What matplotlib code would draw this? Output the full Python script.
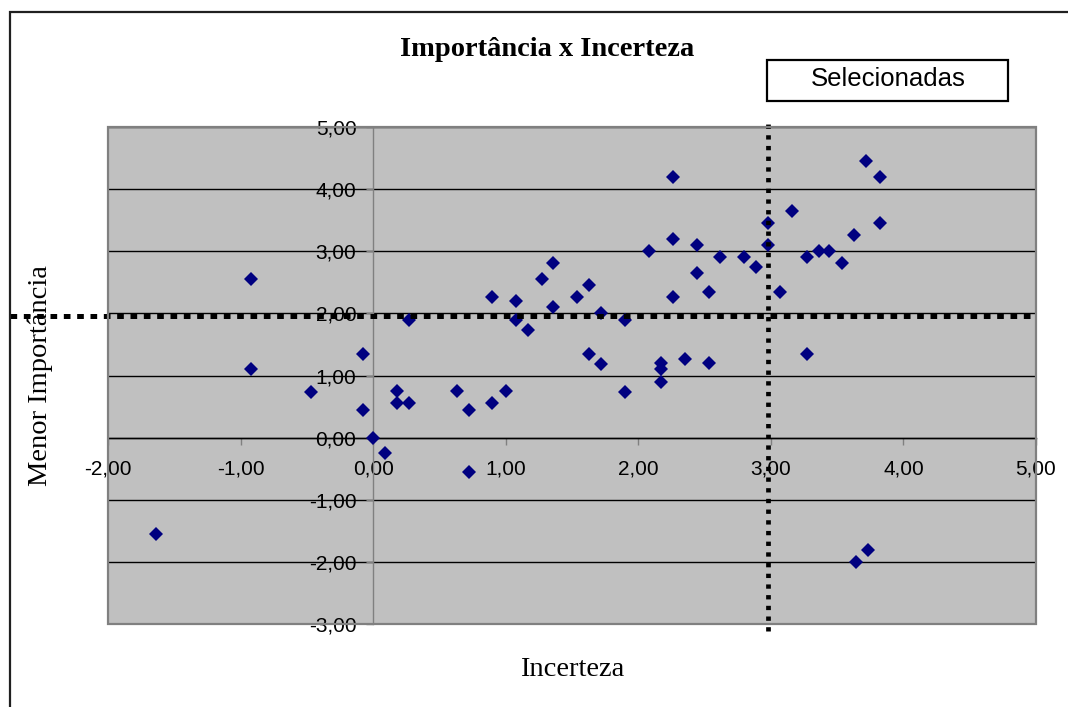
import matplotlib
matplotlib.use("Agg")
import matplotlib.pyplot as plt
from matplotlib.patches import Rectangle

plt.rcParams['lines.scale_dashes'] = False

# ---- data ----
incerteza = [-1.64, -0.92, -0.92, -0.47, -0.08, -0.08, 0.00, 0.09, 0.18, 0.18,
             0.27, 0.27, 0.63, 0.72, 0.72, 0.90, 1.00, 0.90, 1.08, 1.08,
             1.17, 1.27, 1.36, 1.36, 1.54, 1.63, 1.72, 1.63, 1.72, 1.90,
             1.90, 2.08, 2.26, 2.26, 2.26, 2.17, 2.17, 2.17, 2.35, 2.44,
             2.44, 2.53, 2.53, 2.62, 2.80, 2.89, 2.98, 2.98, 3.07, 3.16,
             3.27, 3.36, 3.44, 3.54, 3.63, 3.72, 3.82, 3.82, 3.27, 3.64,
             3.73]
importancia = [-1.55, 2.55, 1.10, 0.74, 1.35, 0.45, 0.00, -0.25, 0.75, 0.55,
               0.55, 1.90, 0.75, 0.45, -0.55, 0.55, 0.75, 2.26, 2.20, 1.90,
               1.74, 2.55, 2.81, 2.10, 2.26, 2.45, 2.00, 1.35, 1.19, 1.90,
               0.74, 3.00, 4.19, 3.19, 2.26, 1.20, 1.10, 0.90, 1.26, 3.10,
               2.65, 2.35, 1.20, 2.90, 2.90, 2.74, 3.45, 3.10, 2.35, 3.65,
               2.90, 3.00, 3.00, 2.81, 3.26, 4.45, 4.19, 3.45, 1.35, -2.00,
               -1.81]
x_ticks = [-2, -1, 0, 1, 2, 3, 4, 5]
y_ticks = [-3, -2, -1, 0, 1, 2, 3, 4, 5]
x_tick_labels = ["-2,00", "-1,00", "0,00", "1,00", "2,00", "3,00", "4,00", "5,00"]
y_tick_labels = ["-3,00", "-2,00", "-1,00", "0,00", "1,00", "2,00", "3,00", "4,00", "5,00"]
limite_incerteza = 2.98
limite_importancia = 1.95

W, H = 1068, 707
fig = plt.figure(figsize=(W / 100, H / 100), dpi=100)
fig.patch.set_facecolor('white')

# outer chart frame (extends past right/bottom edges)
fig.add_artist(Rectangle((10 / W, -0.2), 1.5, (1 - 12 / H) + 0.2, transform=fig.transFigure,
                         fill=False, ec='#202020', lw=1.6, clip_on=False))

ax = fig.add_axes([108 / W, 1 - 624 / H, 928 / W, 497 / H])
ax.set_xlim(-2, 5)
ax.set_ylim(-3, 5)
ax.set_facecolor('#C0C0C0')

ax.spines['top'].set_visible(False)
ax.spines['right'].set_visible(False)
ax.spines['left'].set_position(('data', 0))
ax.spines['left'].set_color('#808080')
ax.spines['left'].set_linewidth(1.0)
ax.spines['bottom'].set_position(('data', 0))
ax.spines['bottom'].set_color('black')
ax.spines['bottom'].set_linewidth(1.0)

ax.set_xticks(x_ticks)
ax.set_xticklabels(x_tick_labels)
ax.set_yticks(y_ticks)
ax.set_yticklabels(y_tick_labels)
for lab in ax.get_xticklabels() + ax.get_yticklabels():
    lab.set_fontfamily('Liberation Sans')
    lab.set_fontsize(15)
ax.tick_params(axis='both', direction='out', length=5, width=1, color='#808080')
ax.tick_params(axis='x', pad=11)
ax.tick_params(axis='y', pad=7)
ax.yaxis.grid(True, color='black', lw=1.0)
ax.set_axisbelow(True)

# plot area border
ax.add_patch(Rectangle((0, 0), 1, 1, transform=ax.transAxes, fill=False,
                       ec='#808080', lw=1.6, zorder=5, clip_on=False))

# data points
ax.plot(incerteza, importancia, 'D', color='#000080', ms=7.3, mew=0, zorder=3)

# threshold lines
ax.plot([-2.74, 5], [limite_importancia, limite_importancia], color='black', lw=3.6,
        dashes=(4.8, 4.8), zorder=4, clip_on=False, dash_capstyle='butt')
ax.plot([limite_incerteza, limite_incerteza], [-3.11, 5.08], color='black', lw=3.4,
        dashes=(3.1, 4.6), zorder=4, clip_on=False, dash_capstyle='butt')

# texts
fig.text(547 / W, 1 - 50 / H, 'Importância x Incerteza', ha='center', va='center',
         fontfamily='Liberation Serif', fontweight='bold', fontsize=20.5)
fig.add_artist(Rectangle((767 / W, 1 - 101 / H), 241 / W, 41 / H, transform=fig.transFigure,
                         fill=True, fc='white', ec='black', lw=1.6))
fig.text(888 / W, 1 - 79 / H, 'Selecionadas', ha='center', va='center',
         fontfamily='Liberation Sans', fontsize=18.5)
fig.text(40 / W, 1 - 376 / H, 'Menor Importância', ha='center', va='center', rotation=90,
         fontfamily='Liberation Serif', fontsize=20.5)
fig.text(572 / W, 1 - 669 / H, 'Incerteza', ha='center', va='center',
         fontfamily='Liberation Serif', fontsize=20.5)

fig.savefig('out.png', dpi=100)
